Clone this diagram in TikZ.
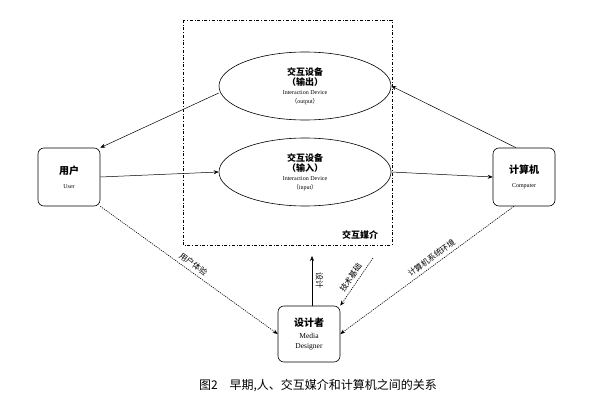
\documentclass[tikz,border=0pt]{standalone}
\usepackage{fontspec}
\newfontfamily\cjk{Noto Sans CJK SC}
\setmainfont{Liberation Serif}
\usetikzlibrary{shapes.geometric,arrows.meta}
\begin{document}
\begin{tikzpicture}[x=1pt,y=-1pt,
  box/.style={draw,rounded corners=6pt,minimum width=62pt,minimum height=58pt,align=center,line width=0.6pt},
  ell/.style={draw,ellipse,minimum width=172pt,minimum height=68pt,align=center,line width=0.6pt,inner sep=0pt},
  arr/.style={-{Stealth[length=5pt,width=4pt]},line width=0.5pt},
  dot/.style={arr,dash pattern=on 1.2pt off 1pt,line width=0.6pt},
  lab/.style={font=\cjk\footnotesize,sloped,above}]
\useasboundingbox (0,0) rectangle (600,412);
\draw[dash dot,line width=0.8pt] (183,20) rectangle (392,245);
\node[font=\cjk\bfseries\small] (mm) at (360,235) {交互媒介};
\node[ell] (eo) at (305,86) {{\cjk\bfseries\small 交互设备}\\[-2pt]{\cjk\bfseries\small（输出）}\\[-3pt]{\fontsize{6}{7}\selectfont Interaction Device}\\[-3pt]{\fontsize{6}{7}\selectfont {\cjk （}output{\cjk ）}}};
\node[ell] (ei) at (305,172) {{\cjk\bfseries\small 交互设备}\\[-2pt]{\cjk\bfseries\small（输入）}\\[-3pt]{\fontsize{6}{7}\selectfont Interaction Device}\\[-3pt]{\fontsize{6}{7}\selectfont {\cjk （}input{\cjk ）}}};
\node[box] (u) at (69,177) {{\cjk\bfseries 用户}\\[2pt]{\fontsize{6}{7}\selectfont User}};
\node[box] (c) at (524,177) {{\cjk\bfseries 计算机}\\[2pt]{\fontsize{6}{7}\selectfont Computer}};
\node[box,minimum height=56pt] (d) at (309,334) {{\cjk\bfseries 设计者}\\[0pt]{\fontsize{7.5}{8}\selectfont Media}\\[-2pt]{\fontsize{7.5}{8}\selectfont Designer}};
\coordinate (dt) at (312,256);
\coordinate (tt) at (373,258);
\draw[arr] (eo.west |- 0,93) -- (u.north east);
\draw[arr] (c.north) ++(-8,0) coordinate (cn) (cn) -- (eo.east |- 0,86);
\draw[arr] (u.east) -- (ei.west);
\draw[arr] (ei.east) -- (c.west);
\draw[dot] (u.south east) -- node[lab]{用户体验} (d.west);
\draw[dot] (c.south) ++(-10,0) coordinate (cs) (cs) -- node[lab,pos=0.45]{计算机系统环境} (d.east);
\draw[arr] (d.north -| dt) -- node[font=\cjk\footnotesize,right,rotate=-90,anchor=south]{设计} (dt);
\draw[dot] (tt) -- node[font=\cjk\footnotesize,sloped,above]{技术基础} (d.north east);
\node[font=\cjk\large] (cap) at (318,386) {图2\quad 早期,人、交互媒介和计算机之间的关系};
\end{tikzpicture}
\end{document}
